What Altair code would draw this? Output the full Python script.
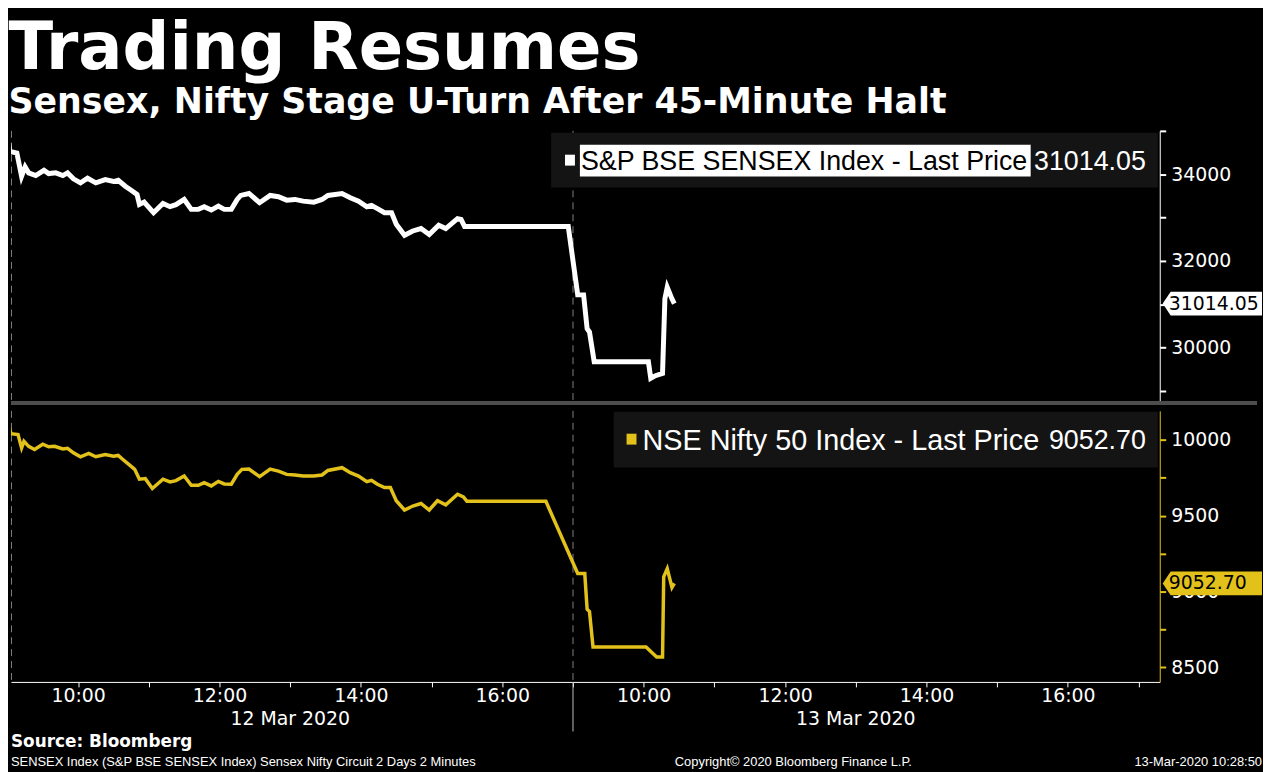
import altair as alt
import pandas as pd

# ---------------- data ----------------
DAYS = ["12 Mar 2020", "13 Mar 2020"]

SENSEX_TIMES = [
    "12 09:00", "12 09:02", "12 09:08", "12 09:12", "12 09:15", "12 09:18", "12 09:24", "12 09:31",
    "12 09:35", "12 09:41", "12 09:47", "12 09:51", "12 09:56", "12 10:02", "12 10:08", "12 10:15",
    "12 10:23", "12 10:30", "12 10:34", "12 10:40", "12 10:45", "12 10:50", "12 10:52", "12 10:56",
    "12 11:04", "12 11:12", "12 11:18", "12 11:23", "12 11:30", "12 11:36", "12 11:42", "12 11:47",
    "12 11:53", "12 11:59", "12 12:04", "12 12:10", "12 12:15", "12 12:18", "12 12:25", "12 12:34",
    "12 12:43", "12 12:50", "12 12:57", "12 13:04", "12 13:11", "12 13:20", "12 13:27", "12 13:32",
    "12 13:44", "12 13:51", "12 13:58", "12 14:05", "12 14:09", "12 14:14", "12 14:20", "12 14:26",
    "12 14:30", "12 14:37", "12 14:44", "12 14:51", "12 14:58", "12 15:06", "12 15:12", "12 15:22",
    "12 15:25", "12 15:28", "12 16:56",
    "13 09:04", "13 09:09", "13 09:12", "13 09:14", "13 09:18", "13 10:04", "13 10:06", "13 10:10",
    "13 10:16", "13 10:18", "13 10:20", "13 10:24", "13 10:26",
]
SENSEX_VALUES = [
    34956, 34533, 34497, 33959, 34175, 34037, 33975, 34097,
    34021, 34037, 33975, 34037, 33899, 33807, 33913, 33807,
    33883, 33837, 33867, 33729, 33637, 33538, 33308, 33361,
    33117, 33331, 33255, 33301, 33423, 33193, 33193, 33255,
    33177, 33269, 33193, 33193, 33423, 33515, 33561, 33347,
    33515, 33485, 33407, 33423, 33384, 33361, 33423, 33515,
    33561, 33462, 33384, 33255, 33285, 33209, 33117, 33117,
    32848, 32595, 32694, 32749, 32611, 32825, 32749, 32979,
    32963, 32795, 32795,
    31216, 31216, 30434, 30359, 29669, 29669, 29285, 29347,
    29400, 31124, 31393, 31124, 31014.05,
]

NIFTY_TIMES = [
    "12 09:00", "12 09:03", "12 09:09", "12 09:12", "12 09:14", "12 09:18", "12 09:23", "12 09:30",
    "12 09:35", "12 09:40", "12 09:47", "12 09:51", "12 09:56", "12 10:02", "12 10:09", "12 10:15",
    "12 10:23", "12 10:30", "12 10:34", "12 10:38", "12 10:44", "12 10:48", "12 10:52", "12 10:57",
    "12 11:03", "12 11:12", "12 11:18", "12 11:23", "12 11:30", "12 11:36", "12 11:42", "12 11:47",
    "12 11:53", "12 11:59", "12 12:04", "12 12:10", "12 12:15", "12 12:19", "12 12:25", "12 12:34",
    "12 12:43", "12 12:50", "12 12:57", "12 13:04", "12 13:11", "12 13:20", "12 13:27", "12 13:32",
    "12 13:44", "12 13:51", "12 13:58", "12 14:05", "12 14:09", "12 14:14", "12 14:20", "12 14:25",
    "12 14:30", "12 14:37", "12 14:44", "12 14:51", "12 14:58", "12 15:05", "12 15:12", "12 15:22",
    "12 15:27", "12 15:30", "12 16:37",
    "13 09:04", "13 09:10", "13 09:12", "13 09:14", "13 09:17", "13 10:02", "13 10:11", "13 10:16",
    "13 10:17", "13 10:20", "13 10:24", "13 10:26",
]
NIFTY_VALUES = [
    10132, 10041, 10034, 9947, 9990, 9957, 9936, 9971,
    9954, 9957, 9940, 9944, 9914, 9888, 9910, 9888,
    9903, 9892, 9897, 9870, 9831, 9805, 9740, 9744,
    9679, 9740, 9722, 9731, 9761, 9700, 9700, 9718,
    9696, 9726, 9709, 9707, 9772, 9805, 9807, 9757,
    9807, 9794, 9772, 9768, 9761, 9761, 9768, 9798,
    9816, 9783, 9761, 9724, 9733, 9707, 9685, 9685,
    9598, 9537, 9563, 9580, 9537, 9598, 9571, 9641,
    9624, 9594, 9594,
    9118, 9118, 8882, 8867, 8634, 8634, 8568, 8568,
    9096, 9150, 9026, 9052.70,
]

SENSEX_LAST = 31014.05
NIFTY_LAST = 9052.70
SENSEX_LABEL = "S&P BSE SENSEX Index - Last Price"
NIFTY_LABEL = "NSE Nifty 50 Index - Last Price"

SENSEX_TICKS = [29000, 30000, 31000, 32000, 33000, 34000, 35000]
NIFTY_TICKS = [8500, 8750, 9000, 9250, 9500, 9750, 10000]
X_TICKS = list(range(1, 17))  # hours into the compressed two-day session axis

TITLE = "Trading Resumes"
SUBTITLE = "Sensex, Nifty Stage U-Turn After 45-Minute Halt"
SOURCE = "Source: Bloomberg"
FOOT_LEFT = "SENSEX Index (S&P BSE SENSEX Index) Sensex Nifty Circuit 2 Days 2 Minutes"
FOOT_MID = "Copyright\u00a9 2020 Bloomberg Finance L.P."
FOOT_RIGHT = "13-Mar-2020 10:28:50"


def to_t(s):
    day, hm = s.split(" ")
    h, m = hm.split(":")
    return (0 if day == "12" else 8) + int(h) - 9 + int(m) / 60.0


sensex_df = pd.DataFrame({"t": [to_t(s) for s in SENSEX_TIMES], "v": SENSEX_VALUES})
nifty_df = pd.DataFrame({"t": [to_t(s) for s in NIFTY_TIMES], "v": NIFTY_VALUES})
days_df = pd.DataFrame({"label": DAYS, "t": [i * 8 + 4 for i in range(len(DAYS))]})
sep_df = pd.DataFrame({"t": [8.0]})
one = pd.DataFrame({"k": [0]})

# ---------------- styling ----------------
W = 1157
H1 = 272
H2 = 273
YELLOW = "#e2c11b"
LEG_FONT = "Liberation Sans"
AX_FONT = "DejaVu Sans"
TAG = "M-1,0L-0.84,-0.24L1,-0.24L1,0.24L-0.84,0.24Z"

xscale = alt.Scale(domain=[0.05, 16.3], nice=False, zero=False)
ys1 = alt.Scale(domain=[28763, 35009], nice=False, zero=False)
ys2 = alt.Scale(domain=[8403, 10191], nice=False, zero=False)

axis1 = alt.Axis(orient="right", values=SENSEX_TICKS, title=None,
                 labelExpr="datum.value % 2000 == 0 ? '' + datum.value : ''",
                 domainColor="white", tickColor="white", tickSize=6, tickWidth=2,
                 labelPadding=5, labelColor="white", labelFont=AX_FONT, labelFontSize=19)
axis2 = alt.Axis(orient="right", values=NIFTY_TICKS, title=None,
                 labelExpr="datum.value % 500 == 0 ? '' + datum.value : ''",
                 domainColor=YELLOW, tickColor=YELLOW, tickSize=6, tickWidth=2,
                 labelPadding=5, labelColor="white", labelFont=AX_FONT, labelFontSize=19)
xaxis = alt.Axis(values=X_TICKS, title=None,
                 labelExpr="datum.value % 2 == 1 ? (datum.value % 8 + 9) + ':00' : ''",
                 domainColor="white", tickColor="white", tickSize=5, labelPadding=0,
                 labelColor="white", labelFont=AX_FONT, labelFontSize=19, labelFlush=False)

x_top = alt.X("t:Q", scale=xscale, axis=None)
x_bot = alt.X("t:Q", scale=xscale, axis=xaxis)
y_top = alt.Y("v:Q", scale=ys1, axis=axis1)
y_bot = alt.Y("v:Q", scale=ys2, axis=axis2)


def left_edge(H):
    return alt.Chart(one).mark_rule(color="#808080", strokeDash=[7, 5], strokeWidth=1).encode(
        x=alt.value(0.5), y=alt.value(0), y2=alt.value(H))


# ---------------- top panel ----------------
t_left = left_edge(H1)
t_sep = alt.Chart(sep_df).mark_rule(color="#808080", strokeDash=[7, 5], strokeWidth=1).encode(
    x=x_top, y=alt.value(0), y2=alt.value(H1))
t_line = alt.Chart(sensex_df).mark_line(color="white", strokeWidth=5, clip=True).encode(x=x_top, y=y_top)
t_bar = alt.Chart(one).mark_rule(color="#4d4d4d", strokeWidth=4).encode(
    x=alt.value(0), x2=alt.value(1255), y=alt.value(H1 + 2))
t_box = alt.Chart(one).mark_rect(color="#141414").encode(
    x=alt.value(544), x2=alt.value(1155), y=alt.value(2), y2=alt.value(57))
t_sq = alt.Chart(one).mark_rect(color="white").encode(
    x=alt.value(558), x2=alt.value(568), y=alt.value(24), y2=alt.value(35))
t_hl = alt.Chart(one).mark_rect(color="white").encode(
    x=alt.value(573), x2=alt.value(1027), y=alt.value(14), y2=alt.value(46))
t_name = alt.Chart(one).mark_text(align="left", baseline="middle", font=LEG_FONT, fontSize=27,
                                  color="black", text=SENSEX_LABEL).encode(
    x=alt.value(574), y=alt.value(31))
t_val = alt.Chart(pd.DataFrame({"v": [SENSEX_LAST]})).mark_text(
    align="right", baseline="middle", font=LEG_FONT, fontSize=27, color="white").encode(
    x=alt.value(1143), y=alt.value(31), text=alt.Text("v:Q", format=".2f"))
t_tag = alt.Chart(pd.DataFrame({"v": [SENSEX_LAST]})).mark_point(
    shape=TAG, size=10000, filled=True, color="white", opacity=1, strokeWidth=0).encode(
    x=alt.value(1210), y=y_top)
t_tagtxt = alt.Chart(pd.DataFrame({"v": [SENSEX_LAST]})).mark_text(
    align="left", baseline="middle", font=AX_FONT, fontSize=19, color="black").encode(
    x=alt.value(1166), y=y_top, text=alt.Text("v:Q", format=".2f"))

top = alt.layer(t_left, t_sep, t_line, t_bar, t_box, t_sq, t_hl, t_name, t_val, t_tag, t_tagtxt).properties(
    width=W, height=H1)

# ---------------- bottom panel ----------------
b_left = left_edge(H2)
b_sep = alt.Chart(sep_df).mark_rule(color="#808080", strokeDash=[7, 5], strokeWidth=1).encode(
    x=x_bot, y=alt.value(0), y2=alt.value(H2))
b_sep2 = alt.Chart(sep_df).mark_rule(color="#bdbdbd", strokeWidth=1).encode(
    x=x_bot, y=alt.value(H2), y2=alt.value(H2 + 50))
b_line = alt.Chart(nifty_df).mark_line(color=YELLOW, strokeWidth=3.5, clip=True).encode(x=x_bot, y=y_bot)
b_box = alt.Chart(one).mark_rect(color="#141414").encode(
    x=alt.value(607), x2=alt.value(1155), y=alt.value(1), y2=alt.value(57))
b_sq = alt.Chart(one).mark_rect(color=YELLOW).encode(
    x=alt.value(620), x2=alt.value(630), y=alt.value(23), y2=alt.value(34))
b_name = alt.Chart(one).mark_text(align="left", baseline="middle", font=LEG_FONT, fontSize=29,
                                  color="white", text=NIFTY_LABEL).encode(
    x=alt.value(636), y=alt.value(30))
b_val = alt.Chart(pd.DataFrame({"v": [NIFTY_LAST]})).mark_text(
    align="right", baseline="middle", font=LEG_FONT, fontSize=27, color="white").encode(
    x=alt.value(1143), y=alt.value(30), text=alt.Text("v:Q", format=".2f"))
b_tag = alt.Chart(pd.DataFrame({"v": [NIFTY_LAST]})).mark_point(
    shape=TAG, size=10000, filled=True, color=YELLOW, opacity=1, strokeWidth=0).encode(
    x=alt.value(1210), y=y_bot)
b_tagtxt = alt.Chart(pd.DataFrame({"v": [NIFTY_LAST]})).mark_text(
    align="left", baseline="middle", font=AX_FONT, fontSize=19, color="black").encode(
    x=alt.value(1166), y=y_bot, text=alt.Text("v:Q", format=".2f"))
b_days = alt.Chart(days_df).mark_text(align="center", baseline="middle", font=AX_FONT,
                                      fontSize=19, color="white").encode(
    x=x_bot, y=alt.value(H2 + 37), text="label:N")
b_source = alt.Chart(one).mark_text(align="left", baseline="middle", font=AX_FONT,
                                    fontSize=17, fontWeight="bold", color="white", text=SOURCE).encode(
    x=alt.value(0), y=alt.value(334))
b_f1 = alt.Chart(one).mark_text(align="left", baseline="middle", font=LEG_FONT, fontSize=13,
                                color="white", text=FOOT_LEFT).encode(x=alt.value(0), y=alt.value(354))
b_f2 = alt.Chart(one).mark_text(align="center", baseline="middle", font=LEG_FONT, fontSize=13,
                                color="white", text=FOOT_MID).encode(x=alt.value(788), y=alt.value(354))
b_f3 = alt.Chart(one).mark_text(align="right", baseline="middle", font=LEG_FONT, fontSize=13,
                                color="white", text=FOOT_RIGHT).encode(x=alt.value(1260), y=alt.value(354))

bottom = alt.layer(b_left, b_sep, b_sep2, b_line, b_box, b_sq, b_name, b_val, b_tag, b_tagtxt,
                   b_days, b_source, b_f1, b_f2, b_f3).properties(width=W, height=H2)

chart = alt.vconcat(top, bottom, spacing=4).properties(
    padding={"left": 0, "top": 5, "right": 0, "bottom": 0},
    background="#000000",
    title=alt.TitleParams(
        text=TITLE, subtitle=SUBTITLE, anchor="start",
        font="DejaVu Sans", fontSize=66, fontWeight="bold", color="white",
        subtitleFont="DejaVu Sans", subtitleFontSize=35, subtitleFontWeight="bold",
        subtitleColor="white", subtitlePadding=3, offset=8),
).configure_view(stroke="transparent").configure_axis(grid=False)

chart.save("out.html", embed_options={"renderer": "svg", "actions": False})
